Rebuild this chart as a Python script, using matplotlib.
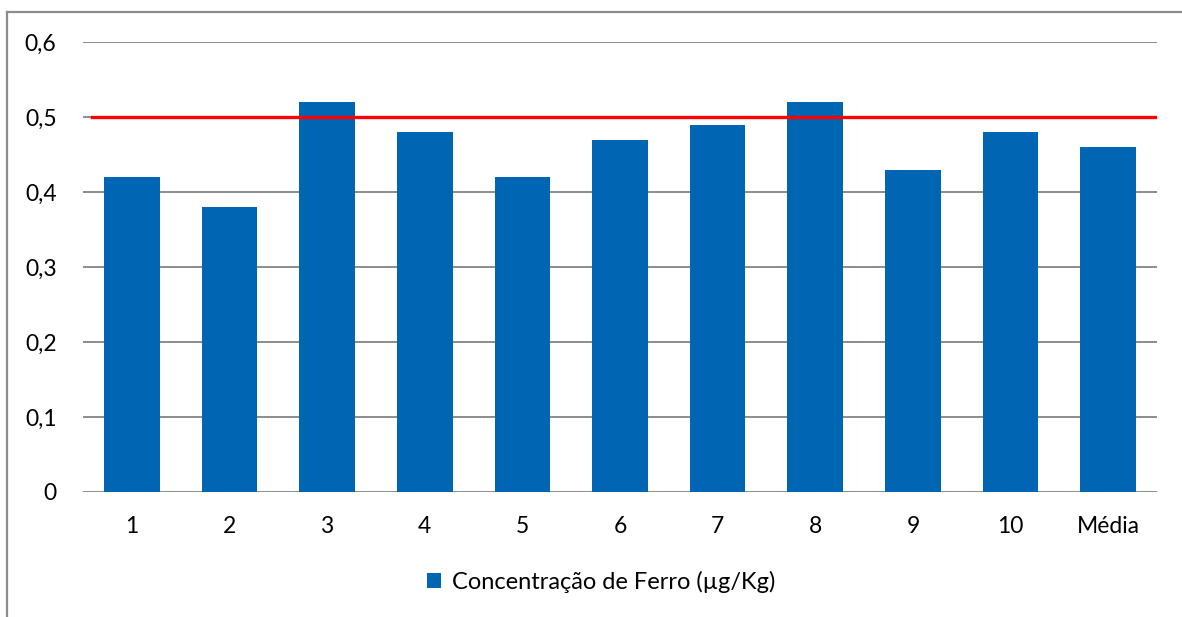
import matplotlib
matplotlib.use("Agg")
import matplotlib.pyplot as plt
from matplotlib.lines import Line2D

plt.rcParams['font.family'] = ['Lato', 'DejaVu Sans']

categorias = ["1", "2", "3", "4", "5", "6", "7", "8", "9", "10", "Média"]
ferro = [0.42, 0.38, 0.52, 0.48, 0.42, 0.47, 0.49, 0.52, 0.43, 0.48, 0.46]
limite = 0.5
yticks = [0, 0.1, 0.2, 0.3, 0.4, 0.5, 0.6]
ytick_labels = ["0", "0,1", "0,2", "0,3", "0,4", "0,5", "0,6"]

W, H = 1182, 617
fig = plt.figure(figsize=(W / 100, H / 100), dpi=100)
ax = fig.add_axes([83 / W, 1 - 492 / H, (1157 - 83) / W, (492 - 42) / H])

x = range(len(categorias))
ax.bar(x, ferro, width=0.57, color="#0066B3", zorder=3,
       label="Concentração de Ferro (µg/Kg)")
ax.axhline(limite, xmin=0.008, xmax=0.998, color="#FF0000", lw=2.4, zorder=4)

ax.set_xlim(-0.5, len(categorias) - 0.5)
ax.set_ylim(0, 0.6)
ax.set_yticks(yticks)
ax.set_yticklabels(ytick_labels)
ax.set_xticks(list(x))
ax.set_xticklabels(categorias)
ax.yaxis.grid(True, color="#8C8C8C", lw=1.4, zorder=0)
ax.set_axisbelow(True)
for s in ax.spines.values():
    s.set_visible(False)
ax.tick_params(axis="both", length=0, labelsize=16.5, colors="#000000")
ax.tick_params(axis="y", pad=19)
ax.tick_params(axis="x", pad=17)

fig.legend(loc="center", bbox_to_anchor=(601 / W, 1 - 582 / H), frameon=False,
           fontsize=17, handlelength=0.6, handleheight=0.6, handletextpad=0.45)

# chart border (left and top edges visible)
fig.add_artist(Line2D([7 / W, 7 / W], [0, 1 - 12 / H], transform=fig.transFigure,
                      color="#8C8C8C", lw=1.6))
fig.add_artist(Line2D([7 / W, 1], [1 - 12 / H, 1 - 12 / H], transform=fig.transFigure,
                      color="#8C8C8C", lw=1.6))

fig.savefig("out.png", dpi=100)
